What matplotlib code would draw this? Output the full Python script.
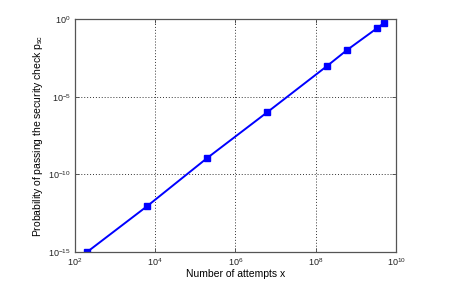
import numpy as np
import matplotlib
matplotlib.use('Agg')
import matplotlib.pyplot as plt
from matplotlib.ticker import LogLocator, NullLocator

# values
attempts = [2.0e2, 6.3e3, 1.95e5, 6.2e6, 1.9e8, 6.0e8, 3.4e9, 5.0e9]
p_sc = [1.0e-15, 9.0e-13, 1.1e-9, 1.0e-6, 9.3e-4, 1.0e-2, 2.6e-1, 5.5e-1]

x_ticks = [1e2, 1e4, 1e6, 1e8, 1e10]
y_ticks = [1e-15, 1e-10, 1e-5, 1e0]

plt.rcParams['font.family'] = ['Liberation Sans', 'DejaVu Sans']
plt.rcParams['mathtext.fontset'] = 'custom'
plt.rcParams['mathtext.rm'] = 'Liberation Sans'
plt.rcParams['mathtext.it'] = 'Liberation Sans'

fig = plt.figure(figsize=(4.56, 2.89), dpi=100)
ax = fig.add_axes([75 / 456, 1 - 252 / 289, 321 / 456, 233 / 289])

ax.loglog(attempts, p_sc, color='#0000ff', linewidth=1.4, marker='s', markersize=4.5,
          markerfacecolor='#0000ff', markeredgecolor='#0000ff')

ax.set_xlim(1e2, 1e10)
ax.set_ylim(1e-15, 1e0)
ax.set_xticks(x_ticks)
ax.set_yticks(y_ticks)
ax.xaxis.set_minor_locator(NullLocator())
ax.yaxis.set_minor_locator(NullLocator())

ax.grid(True, which='major', linestyle=(0, (1, 2)), color='#333333', linewidth=0.7)
ax.tick_params(direction='in', top=True, right=True, length=3, width=0.6,
               labelsize=6.5, colors='#444444', labelcolor='#222222', pad=3)
for s in ax.spines.values():
    s.set_color('#555555')
    s.set_linewidth(0.9)

ax.set_xlabel('Number of attempts x', fontsize=7.5, labelpad=1)
ax.set_ylabel('Probability of passing the security check p$_{\\mathrm{sc}}$', fontsize=7.5, labelpad=2)

fig.savefig('out.png', dpi=100)
